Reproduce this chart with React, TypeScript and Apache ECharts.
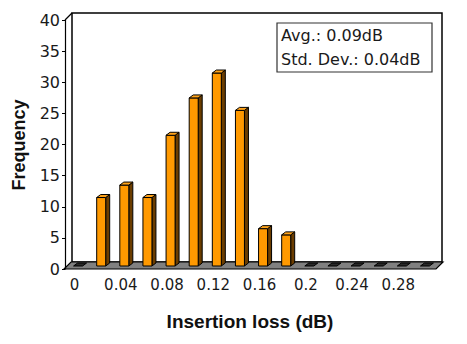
import React, { useEffect, useRef } from "react";
import * as echarts from "echarts";

const categories = ["0", "0.02", "0.04", "0.06", "0.08", "0.1", "0.12", "0.14", "0.16", "0.18", "0.2", "0.22", "0.24", "0.26", "0.28", "0.3"];
const frequency = [0, 11, 13, 11, 21, 27, 31, 25, 6, 5, 0, 0, 0, 0, 0, 0];
const yTicks = { min: 0, max: 40, interval: 5 };
const statsLines = ["Avg.: 0.09dB", "Std. Dev.: 0.04dB"];
const xTitle = "Insertion loss (dB)";
const yTitle = "Frequency";

const GL = 65, GT = 20, GW = 370, GH = 249;
const DX = 7, DY = 7;

export default function App() {
  const ref = useRef<HTMLDivElement>(null);
  useEffect(() => {
    if (!ref.current) return;
    const chart = echarts.init(ref.current, null, { renderer: "svg" });
    const floorY = GT + GH;
    const option: any = {
      animation: false,
      backgroundColor: "#fff",
      grid: { left: GL, top: GT, width: GW, height: GH, containLabel: false },
      xAxis: {
        type: "category",
        data: categories,
        axisLine: { show: false },
        axisTick: { show: false },
        axisLabel: {
          interval: 1,
          margin: 8,
          fontSize: 15,
          fontFamily: "DejaVu Sans",
          color: "#1a1a1a",
          padding: [0, 4, 0, 0],
        },
        splitLine: { show: false },
      },
      yAxis: {
        type: "value",
        min: yTicks.min,
        max: yTicks.max,
        interval: yTicks.interval,
        axisLine: { show: true, lineStyle: { color: "#000", width: 1.2 } },
        axisTick: { show: true, length: 3, lineStyle: { color: "#000" } },
        axisLabel: { margin: 5, fontSize: 16, fontFamily: "DejaVu Sans", color: "#1a1a1a" },
        splitLine: { show: false },
      },
      graphic: [
        {
          type: "polygon",
          z: -10,
          silent: true,
          shape: { points: [[GL + DX, GT - DY], [GL + GW + DX, GT - DY], [GL + GW + DX, floorY - DY], [GL + DX, floorY - DY]] },
          style: { fill: "#fff", stroke: "#000", lineWidth: 1.5 },
        },
        {
          type: "polygon",
          z: -5,
          silent: true,
          shape: { points: [[GL - 1, floorY], [GL + GW + 1, floorY], [GL + GW + 1 + DX, floorY - DY], [GL - 1 + DX, floorY - DY]] },
          style: { fill: "#808080", stroke: "#000", lineWidth: 1.2 },
        },
        {
          type: "line",
          z: -5,
          silent: true,
          shape: { x1: GL, y1: GT, x2: GL + DX, y2: GT - DY },
          style: { stroke: "#000", lineWidth: 1.2 },
        },
        {
          type: "rect",
          z: 20,
          shape: { x: 277, y: 23, width: 155, height: 49 },
          style: { fill: "#fff", stroke: "#333", lineWidth: 1.2 },
        },
        {
          type: "text",
          z: 21,
          x: 281,
          y: 35,
          style: { text: statsLines[0], fontSize: 16, fontFamily: "DejaVu Sans", fill: "#1a1a1a", verticalAlign: "middle", align: "left" },
        },
        {
          type: "text",
          z: 21,
          x: 281,
          y: 59,
          style: { text: statsLines[1], fontSize: 16, fontFamily: "DejaVu Sans", fill: "#1a1a1a", verticalAlign: "middle", align: "left" },
        },
        {
          type: "text",
          x: 19,
          y: 145,
          rotation: Math.PI / 2,
          style: { text: yTitle, fontSize: 18, fontWeight: "bold", fontFamily: "Liberation Sans", fill: "#111", align: "center", verticalAlign: "middle" },
        },
        {
          type: "text",
          x: 250,
          y: 321,
          style: { text: xTitle, fontSize: 19, fontWeight: "bold", fontFamily: "Liberation Sans", fill: "#111", align: "center", verticalAlign: "middle" },
        },
      ],
      series: [
        {
          type: "custom",
          z: 5,
          data: frequency.map((v, i) => [i, v]),
          renderItem: (params: any, api: any) => {
            const idx = api.value(0);
            const v = api.value(1);
            const base = api.coord([idx, 0]);
            const top = api.coord([idx, v]);
            const bw = 9;
            const x0 = base[0] - bw / 2 + 1.5;
            const yb = base[1] - 3;
            const yt = top[1] - 3;
            const dx = 4, dy = 3;
            const stroke = "#000";
            const children: any[] = [];
            if (v > 0) {
              children.push({
                type: "polygon",
                shape: { points: [[x0 + bw, yt], [x0 + bw + dx, yt - dy], [x0 + bw + dx, yb - dy], [x0 + bw, yb]] },
                style: { fill: "#6b3d00", stroke, lineWidth: 1 },
              });
              children.push({
                type: "rect",
                shape: { x: x0, y: yt, width: bw, height: yb - yt },
                style: { fill: "#ff9900", stroke, lineWidth: 1 },
              });
            }
            children.push({
              type: "polygon",
              shape: { points: [[x0, yt], [x0 + dx, yt - dy], [x0 + bw + dx, yt - dy], [x0 + bw, yt]] },
              style: { fill: v > 0 ? "#ffa31a" : "#2a2a2a", stroke, lineWidth: 1 },
            });
            return { type: "group", children };
          },
        },
      ],
    };
    chart.setOption(option);
    return () => chart.dispose();
  }, []);
  return <div ref={ref} style={{ width: 467, height: 344, position: "absolute", left: 0, top: 0 }} />;
}
